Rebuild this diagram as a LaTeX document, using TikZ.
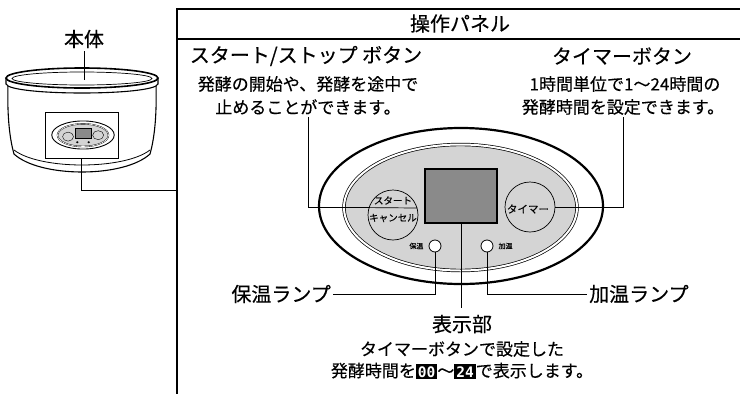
\documentclass[tikz,border=0pt]{standalone}
\usepackage{fontspec}
\setmainfont{Noto Sans CJK JP}[FakeBold=0.35]
\newfontfamily\segfont{DejaVu Sans Mono}
\usetikzlibrary{positioning}
\definecolor{facegray}{RGB}{212,212,212}
\definecolor{lcdgray}{RGB}{138,138,138}
% white digits on a black plate
\newcommand\segnum[1]{{\setlength\fboxsep{2pt}\colorbox{black}{\textcolor{white}{\segfont\bfseries\fontsize{14.5}{14}\selectfont#1}}}}
\tikzset{
  head/.style={inner sep=0pt,font=\fontsize{20}{20}\selectfont},
  sub/.style={inner sep=0pt,font=\fontsize{17}{17}\selectfont},
  lead/.style={line width=.8pt},
  btn/.style={draw,circle,line width=.7pt,fill=facegray,minimum size=50pt,inner sep=0pt},
  lamp/.style={draw,circle,line width=.8pt,fill=white,minimum size=12pt,inner sep=0pt},
  lamptext/.style={inner sep=0pt,font=\fontsize{7}{7}\selectfont},
}
\begin{document}
\begin{tikzpicture}[x=1pt,y=-1pt]
\useasboundingbox (0,0) rectangle (740,394);
% pot
\draw[line width=1.1pt,fill=white] (8,84) .. controls (7,118) and (10,140) .. (14,154) .. controls (40,178) and (124,178) .. (150,154) .. controls (154,140) and (157,118) .. (156,84);
\draw[line width=.8pt] (14,150) .. controls (40,170) and (124,170) .. (150,150);
\draw[line width=1.1pt,fill=white] (6,78) -- (6,84) .. controls (10,96) and (154,96) .. (158,84) -- (158,78);
\draw[line width=1.6pt,fill=white] (82,78) ellipse[x radius=76,y radius=10];
\draw[line width=.7pt] (82,78.5) ellipse[x radius=70,y radius=6.5];
\node[draw,line width=.8pt,minimum width=73pt,minimum height=46pt,inner sep=0pt,fill=white] (mini) at (81.5,135) {};
\begin{scope}[shift={(83,135)},xscale=.22,yscale=.18]
\draw[line width=.9pt] (0,0) ellipse[x radius=142,y radius=78];
\draw[line width=.4pt,fill=facegray,double=white,double distance=.6pt] (0,1) ellipse[x radius=116,y radius=63];
\draw[fill=lcdgray,line width=.5pt] (-36,-37) rectangle (36,17);
\draw[line width=.4pt] (-68,9) circle[radius=25] (69,1) circle[radius=25];
\fill (-26,40) circle[radius=6] (26,40) circle[radius=6];
\end{scope}
\node[head] (body) at (84,39) {本体};
\coordinate (lid) at (84,80);
\draw[lead] ([yshift=-3pt]body.south) -- (lid);
\coordinate (bus) at (177,190);
\draw[lead] (mini.south) |- (bus);
% header frame
\draw[line width=1.1pt] (177,394) -- (177,9) -- (740,9);
\draw[line width=1.1pt] (177,39) -- (740,39);
\node[head] (title) at (460,23.5) {操作パネル};
% panel
\draw[line width=2.2pt] (461,206) ellipse[x radius=142,y radius=78];
\draw[line width=.7pt,fill=facegray,double=white,double distance=2pt] (460.5,207.5) ellipse[x radius=116.5,y radius=63];
\node[draw,line width=1.3pt,fill=lcdgray,minimum width=72pt,minimum height=54pt,inner sep=0pt] (disp) at (461,196) {};
\node[btn] (start) at (393,215) {};
\draw[line width=.7pt] (start.163.7) -- (start.16.3);
\node[inner sep=0pt,font=\fontsize{9.5}{10}\selectfont] at (393,200.5) {スタート};
\node[inner sep=0pt,font=\fontsize{9.5}{10}\selectfont] at (393,218) {キャンセル};
\node[btn] (timer) at (530,207) {};
\node[inner sep=0pt,font=\fontsize{10.5}{11}\selectfont] at (528,209) {タイマー};
\node[lamp] (keep) at (435,246) {};
\node[lamp] (warm) at (487,246) {};
\node[lamptext,left=5pt of keep] {保温};
\node[lamptext,right=5pt of warm] {加温};
% labels
\node[head] (sthead) at (306,56) {スタート/ストップ ボタン};
\node[sub] (st1) at (308,84) {発酵の開始や、発酵を途中で};
\node[sub] (st2) at (308,107) {止めることができます。};
\node[head] (tmhead) at (622,56) {タイマーボタン};
\node[sub] (tm1) at (625,84) {1時間単位で1〜24時間の};
\node[sub] (tm2) at (623,107) {発酵時間を設定できます。};
\node[head,anchor=east,inner xsep=2pt] (keeplbl) at (333,294) {保温ランプ};
\node[head,anchor=west,inner xsep=2pt] (warmlbl) at (587,294) {加温ランプ};
\node[head] (dsp) at (462,324) {表示部};
\node[sub] (dsp1) at (462,349) {タイマーボタンで設定した};
\node[sub] (dsp2) at (462,371) {発酵時間を\segnum{00}〜\segnum{24}で表示します。};
% leaders
\draw[lead] ([yshift=-2pt]st2.south) |- (start.163.7);
\draw[lead] ([yshift=-2pt]tm2.south) |- (timer.east);
\draw[lead] (keep.south) |- (keeplbl.east);
\draw[lead] (warm.south) |- (warmlbl.west);
\draw[lead,shorten >=7pt] (disp.south) -- (disp.south |- dsp.north);
\end{tikzpicture}
\end{document}
